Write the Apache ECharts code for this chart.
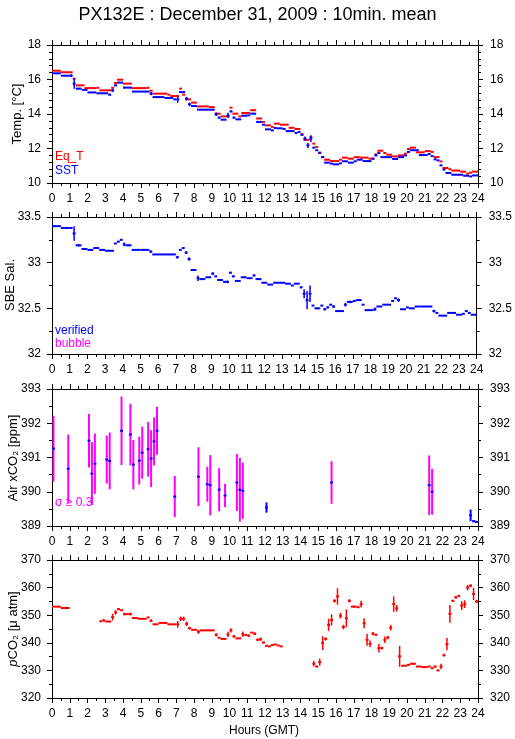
<!DOCTYPE html>
<html><head><meta charset="utf-8">
<script src="https://cdn.jsdelivr.net/npm/echarts/dist/echarts.min.js"></script>
<style>html,body{margin:0;padding:0;background:#fff}#c{width:515px;height:739px}</style>
</head><body><div id="c"></div><script>
// ---- data (10-min slots: slot k covers k/6 .. (k+1)/6 hours) ----
const hourTicks = [0,24,1];
// Eq_T runs: [firstSlot, endSlot, value]
const eqT = [[0,3,16.51],[3,7,16.42],[7,8,16.05],[8,11,15.66],[11,15,15.5],[15,16,15.52],[16,20,15.37],[20,21,15.52],[21,22,15.8],[22,24,15.99],[24,27,15.76],[27,32,15.5],[32,33,15.52],[33,34,15.35],[34,39,15.18],[39,40,15.12],[40,43,15.04],[43,44,15.47],[44,45,15.12],[45,47,14.85],[47,49,14.66],[49,53,14.44],[53,55,14.4],[55,57,14.02],[57,60,13.86],[60,61,14.37],[61,63,14.02],[63,64,13.86],[64,67,14.06],[67,69,14.22],[69,71,13.74],[71,72,13.54],[72,74,13.34],[74,75,13.25],[75,77,13.44],[77,80,13.38],[80,82,13.2],[82,84,13.13],[84,85,12.82],[85,87,12.5],[87,88,12.66],[88,89,12.28],[89,90,12.09],[90,91,11.74],[91,92,11.5],[92,94,11.35],[94,97,11.27],[97,98,11.35],[98,100,11.47],[100,102,11.41],[102,104,11.5],[104,107,11.47],[107,109,11.41],[109,110,11.66],[110,112,11.87],[112,113,11.74],[113,115,11.64],[115,117,11.54],[117,119,11.6],[119,120,11.7],[120,121,11.97],[121,123,12.05],[123,126,11.78],[126,128,11.85],[128,129,11.8],[129,131,11.5],[131,132,11.25],[132,134,10.87],[134,135,10.8],[135,138,10.72],[138,140,10.66],[140,141,10.54],[141,142,10.6],[142,144,10.66]];
// SST runs: [firstSlot, endSlot, value, sigma]
const sst = [[0,3,16.36,0],[3,6,16.22,0],[6,7,16.22,0.08],[7,8,15.76,0.3],[8,10,15.47,0.05],[10,12,15.4,0],[12,15,15.25,0],[15,19,15.2,0],[19,20,15.12,0.05],[20,21,15.37,0.1],[21,22,15.66,0.05],[22,24,15.82,0],[24,25,15.53,0.05],[25,26,15.53,0],[26,27,15.53,0.05],[27,33,15.3,0],[33,34,15.18,0.1],[34,38,14.98,0],[38,41,14.93,0],[41,42,14.85,0],[42,43,14.85,0.2],[43,44,15.27,0.05],[44,45,15.27,0.05],[45,46,14.89,0.1],[46,47,14.56,0.1],[47,49,14.46,0],[49,55,14.25,0],[55,56,13.98,0.1],[56,57,13.79,0.05],[57,59,13.67,0],[59,60,13.92,0.15],[60,61,14.15,0.05],[61,62,13.79,0.05],[62,64,13.69,0],[64,65,13.9,0.05],[65,66,13.9,0.05],[66,67,13.92,0],[67,69,14.02,0.05],[69,70,13.54,0.06],[70,71,13.54,0.06],[71,72,13.38,0],[72,74,13.11,0],[74,75,13.05,0],[75,76,13.19,0.04],[76,78,13.17,0],[78,79,13.13,0],[79,82,13.01,0],[82,83,12.9,0.05],[83,84,12.96,0],[84,85,12.8,0.05],[85,86,12.57,0.12],[86,87,12.18,0.15],[87,88,12.57,0.2],[88,89,12.05,0.03],[89,90,11.9,0.03],[90,91,11.76,0.03],[91,92,11.5,0.05],[92,94,11.18,0],[94,95,11.12,0],[95,97,11.08,0],[97,98,11.14,0],[98,100,11.26,0],[100,102,11.18,0],[102,103,11.26,0],[103,105,11.35,0],[105,108,11.27,0],[108,109,11.41,0],[109,110,11.6,0.05],[110,111,11.74,0],[111,115,11.5,0],[115,117,11.39,0],[117,119,11.5,0],[119,120,11.6,0],[120,121,11.8,0],[121,124,11.9,0],[124,127,11.62,0],[127,128,11.68,0.04],[128,129,11.56,0],[129,130,11.37,0.04],[130,131,11.31,0],[131,132,11.02,0.04],[132,133,10.78,0.03],[133,135,10.58,0.03],[135,139,10.48,0],[139,141,10.42,0],[141,142,10.38,0],[142,144,10.44,0]];
// Salinity (verified) runs: [firstSlot, endSlot, value, sigma]
const sal = [[0,3,33.40,0],[3,6,33.38,0],[6,7,33.38,0.01],[7,8,33.32,0.08],[8,10,33.19,0.015],[10,12,33.15,0],[12,14,33.14,0],[14,16,33.16,0],[16,18,33.14,0],[18,21,33.13,0.01],[21,22,33.21,0],[22,23,33.23,0],[23,24,33.25,0],[24,25,33.2,0.02],[25,27,33.19,0.01],[27,30,33.14,0],[30,33,33.14,0],[33,34,33.12,0.015],[34,38,33.09,0],[38,42,33.09,0],[42,43,33.06,0.015],[43,44,33.14,0],[44,45,33.16,0.01],[45,46,33.11,0.015],[46,47,33.04,0.02],[47,49,32.92,0.01],[49,50,32.83,0.03],[50,52,32.82,0],[52,54,32.84,0],[54,55,32.88,0.015],[55,56,32.85,0],[56,58,32.81,0],[58,59,32.79,0],[59,60,32.79,0.015],[60,61,32.89,0.01],[61,62,32.85,0.01],[62,64,32.8,0],[64,66,32.84,0.01],[66,68,32.83,0],[68,69,32.86,0.01],[69,71,32.82,0.01],[71,73,32.78,0],[73,75,32.76,0],[75,77,32.78,0],[77,79,32.78,0],[79,81,32.77,0],[81,82,32.75,0],[82,84,32.77,0],[84,85,32.73,0.01],[85,86,32.66,0.05],[86,87,32.59,0.1],[87,88,32.66,0.09],[88,89,32.53,0],[89,91,32.5,0.01],[91,92,32.53,0],[92,93,32.49,0.01],[93,94,32.51,0.01],[94,95,32.54,0],[95,96,32.52,0.015],[96,99,32.47,0],[99,100,32.54,0.02],[100,102,32.57,0.015],[102,103,32.58,0],[103,105,32.59,0.01],[105,106,32.54,0],[106,109,32.48,0],[109,110,32.49,0.02],[110,112,32.52,0],[112,115,32.54,0],[115,116,32.58,0.01],[116,117,32.61,0],[117,118,32.59,0.02],[118,120,32.49,0],[120,121,32.51,0],[121,123,32.5,0],[123,125,32.52,0],[125,129,32.52,0],[129,130,32.47,0.015],[130,131,32.45,0],[131,134,32.42,0],[134,135,32.45,0.01],[135,137,32.45,0],[137,139,32.43,0],[139,140,32.44,0],[140,141,32.47,0],[141,142,32.45,0],[142,144,32.43,0]];
// Air xCO2 points: [slot, value, sigma]
const airCO2 = [[0,391.26,0.96],[5,390.67,1.0],[12,391.49,0.78],[13,390.53,0.92],[14,390.82,0.88],[18,390.94,0.7],[19,390.9,0.83],[23,391.78,1.0],[26,391.67,0.9],[27,390.79,0.72],[29,390.91,0.7],[30,391.14,0.76],[32,391.24,0.8],[33,390.97,0.83],[34,391.47,0.7],[35,391.78,0.7],[41,389.86,0.6],[49,390.44,0.86],[52,390.22,0.51],[53,390.19,0.88],[56,390.06,0.63],[58,389.89,0.34],[62,390.27,0.83],[63,390.06,0.93],[64,390.03,0.82],[72,389.54,0.15],[94,390.27,0.62],[127,390.19,0.87],[128,390.0,0.67],[141,389.31,0.17],[142,389.14,0.03],[143,389.12,0.03]];
// pCO2 runs: [firstSlot, endSlot, value, sigma]
const pco2 = [[0,3,353.1,0],[3,6,352.6,0],[16,17,347.8,0],[17,18,348.1,0.5],[18,20,347.7,0],[20,21,349.3,1.2],[21,22,351,0.8],[22,23,352.2,0.4],[23,24,351.8,0],[24,25,350.4,0.5],[25,26,350.4,0],[26,27,350.4,0.5],[27,29,349.0,0],[29,32,348.7,0],[32,33,349.2,0],[33,34,348,0.5],[34,36,346.7,0],[36,39,347.2,0],[39,42,346.7,0],[42,43,346.7,1.2],[43,44,348.7,0.8],[44,45,348.7,0.8],[45,46,346.9,0.8],[46,47,345.3,0.5],[47,49,344.7,0],[49,50,344,0.7],[50,55,344.5,0],[55,56,342.9,0.6],[56,57,341.8,0],[57,59,341.4,0],[59,60,343,1.0],[60,61,344.5,0.8],[61,62,342.3,0.5],[62,64,341.6,0],[64,65,343.1,1],[65,66,342.8,0],[66,67,342.6,0.4],[67,68,343.7,0],[68,69,343.3,0.5],[69,70,341.1,0.5],[70,71,341.3,0.6],[71,72,340.1,0.3],[72,73,338.9,0],[73,74,338.7,0],[74,75,339.2,0],[75,76,339.4,0],[76,77,339.0,0],[77,78,338.7,0],[88,89,332.4,1],[89,90,331.4,0.3],[90,91,333,1.3],[91,92,339.9,2.5],[92,93,341.4,0.6],[93,94,346.5,2.2],[94,95,348.3,2],[95,96,355.2,0.6],[96,97,356.8,3],[97,98,349.8,1],[98,99,345.7,0.8],[99,100,348.9,3.2],[100,101,355.2,0.6],[101,103,353.1,0.4],[103,104,352.9,0],[104,105,354,1.2],[105,106,347.1,1.8],[106,107,341.1,2.2],[107,108,339.6,1.2],[108,109,343.3,0.6],[109,110,342.9,0.3],[110,111,338.1,1.6],[111,112,338.1,0.5],[112,113,341.1,1.2],[113,114,341.9,0.6],[114,115,345.5,1],[115,116,354,2.8],[116,117,352.5,1.2],[117,118,335.1,3.8],[118,120,331.7,0],[120,121,332,0],[121,123,332.4,0.3],[123,125,331.4,0],[125,127,331.2,0],[127,128,331.4,0],[128,129,330.8,0],[129,130,331.4,0.4],[130,131,330.0,0],[131,132,331.4,1],[132,133,335.5,0.5],[133,134,339.5,2.2],[134,135,350.5,3.2],[135,136,355.2,0.4],[136,137,356.5,0.5],[137,138,357,0.3],[138,139,353.5,1.6],[139,140,354,1.4],[140,141,360,1],[141,142,360.7,0.5],[142,143,357.7,2.2],[143,144,355,0.6]];
// y axis ranges: [min, max, interval, minorSplit]
const yTemp = [10,18,2,5];
const ySal = [32,33.5,0.5,2];
const yAir = [389,393,1,2];
const yPco2 = [320,370,10,2];
const sigmaLimit = 0.3;

// ---- chart ----
const FONT = 'Liberation Sans, Arial, sans-serif';
const RED='#ff0000', BLUE='#0000ff', MAG='#ff00ff';
const H = 1/6;
const grids = [
  {left:52,right:37,top:45,height:138},
  {left:52,right:37,top:217,height:137},
  {left:52,right:37,top:389,height:137},
  {left:52,right:37,top:560,height:138}
];
const axLine = {show:true,onZero:false,lineStyle:{color:'#000',width:1}};
const tick = {show:true,inside:false,length:5,lineStyle:{color:'#000',width:1}};
const lbl = {color:'#000',fontSize:12,fontFamily:FONT};
const xAxis=[], yAxis=[];
const yR=[yTemp,ySal,yAir,yPco2];
grids.forEach((g,i)=>{
  ['bottom','top'].forEach(pos=>{
    xAxis.push({type:'value',gridIndex:i,position:pos,min:hourTicks[0],max:hourTicks[1],interval:hourTicks[2],
      axisLine:axLine,axisTick:tick,minorTick:{show:true,splitNumber:2,length:3,lineStyle:{color:'#000'}},
      splitLine:{show:false},axisLabel:Object.assign({show:pos==='bottom',margin:10},lbl)});
  });
  ['left','right'].forEach(pos=>{
    const r=yR[i];
    yAxis.push({type:'value',gridIndex:i,position:pos,min:r[0],max:r[1],interval:r[2],
      axisLine:axLine,axisTick:tick,minorTick:{show:true,splitNumber:r[3],length:3,lineStyle:{color:'#000'}},
      splitLine:{show:false},axisLabel:Object.assign({show:true,margin:pos==='left'?11:12},lbl)});
  });
});
function runData(arr){return arr.map(d=>[d[0]*H,d[1]*H,d[2],d.length>3?d[3]:0]);}
function segRenderer(color){
  return function(params,api){
    const x0=api.value(0),x1=api.value(1),v=api.value(2),sg=api.value(3)||0;
    const a=api.coord([x0,v]),b=api.coord([x1,v]);
    const kids=[{type:'line',shape:{x1:a[0],y1:a[1],x2:b[0],y2:b[1]},style:{stroke:color,lineWidth:2}}];
    if(sg>0){const m=(x0+x1)/2;const t=api.coord([m,v+sg]),u=api.coord([m,v-sg]);
      kids.push({type:'line',shape:{x1:t[0],y1:t[1],x2:u[0],y2:u[1]},style:{stroke:color,lineWidth:1.5}});}
    return {type:'group',children:kids};
  };
}
function segSeries(arr,color,ai){
  return {type:'custom',xAxisIndex:ai,yAxisIndex:ai,data:runData(arr),encode:{x:[0,1],y:2},
    renderItem:segRenderer(color),clip:true,silent:true,animation:false};
}
const airSeries={type:'custom',xAxisIndex:4,yAxisIndex:4,clip:true,silent:true,animation:false,
  data:airCO2.map(d=>[(d[0]+0.5)*H,d[1],d[2]]),encode:{x:0,y:1},
  renderItem:function(params,api){
    const x=api.value(0),v=api.value(1),sg=api.value(2);
    const t=api.coord([x,v+sg]),u=api.coord([x,v-sg]);
    const a=api.coord([x-H/2,v]),b=api.coord([x+H/2,v]);
    return {type:'group',children:[
      {type:'line',shape:{x1:t[0],y1:t[1],x2:u[0],y2:u[1]},style:{stroke:sg>=sigmaLimit?MAG:BLUE,lineWidth:2}},
      {type:'line',shape:{x1:a[0],y1:a[1],x2:b[0],y2:b[1]},style:{stroke:BLUE,lineWidth:2}}
    ]};
  }};
function vText(text,x,y){
  return {type:'text',x:x,y:y,rotation:Math.PI/2,style:{text:text,align:'center',verticalAlign:'middle',font:'13px '+FONT,fill:'#000'}};
}
function tText(text,x,y,color){
  return {type:'text',x:x,y:y,style:{text:text,align:'left',verticalAlign:'top',font:'12px '+FONT,fill:color}};
}
const option={
  animation:false,
  title:{text:'PX132E : December 31, 2009 : 10min. mean',left:'center',top:1,
    textStyle:{fontFamily:FONT,fontSize:18,fontWeight:'normal',color:'#000'}},
  grid:grids,xAxis:xAxis,yAxis:yAxis,
  series:[segSeries(eqT,RED,0),segSeries(sst,BLUE,0),segSeries(sal,BLUE,2),airSeries,segSeries(pco2,RED,6)],
  graphic:[
    vText('Temp. [°C]',17,114),
    vText('SBE Sal.',10,285),
    vText('Air xCO₂ [ppm]',13,458),
    {type:'text',x:13,y:629,rotation:Math.PI/2,style:{text:'{i|p}CO₂ [μ atm]',align:'center',verticalAlign:'middle',font:'13px '+FONT,fill:'#000',rich:{i:{fontStyle:'italic',fontSize:13,fontFamily:FONT}}}},
    tText('Eq_T',55,151,RED),
    tText('SST',55,165,BLUE),
    tText('verified',55,325,BLUE),
    tText('bubble',55,338,MAG),
    tText('σ ≥ 0.3',55,497,MAG),
    {type:'text',x:264,y:731,style:{text:'Hours (GMT)',align:'center',verticalAlign:'middle',font:'12px '+FONT,fill:'#000'}}
  ]
};
const chart=echarts.init(document.getElementById('c'),null,{renderer:'canvas'});
chart.setOption(option);
</script></body></html>
